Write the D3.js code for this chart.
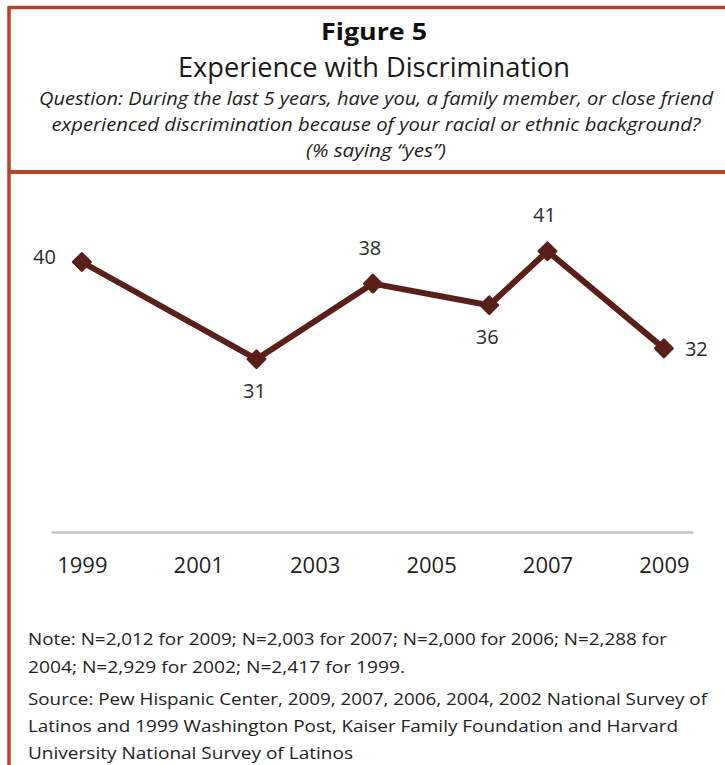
<!DOCTYPE html>
<html>
<head>
<meta charset="utf-8">
<script src="https://cdn.jsdelivr.net/npm/d3@7"></script>
<style>
  html, body { margin: 0; padding: 0; background: #fff; }
  svg { display: block; }
  text { font-family: "Open Sans", "Noto Sans", sans-serif; }
</style>
</head>
<body>
<script>
// ---- data ----
const years = [1999, 2002, 2004, 2006, 2007, 2009];
const values = [40, 31, 38, 36, 41, 32];
const tickYears = [1999, 2001, 2003, 2005, 2007, 2009];
const title = "Figure 5";
const subtitle = "Experience with Discrimination";
const questionLines = [
  "Question: During the last 5 years, have you, a family member, or close friend",
  "experienced discrimination because of your racial or ethnic background?",
  "(% saying \u201cyes\u201d)"
];
const noteLines = [
  "Note: N=2,012 for 2009; N=2,003 for 2007; N=2,000 for 2006; N=2,288 for",
  "2004; N=2,929 for 2002; N=2,417 for 1999."
];
const sourceLines = [
  "Source: Pew Hispanic Center, 2009, 2007, 2006, 2004, 2002 National Survey of",
  "Latinos and 1999 Washington Post, Kaiser Family Foundation and Harvard",
  "University National Survey of Latinos"
];

// ---- layout ----
const W = 725, H = 765;
const svg = d3.select("body").append("svg").attr("width", W).attr("height", H);
svg.append("rect").attr("width", W).attr("height", H).attr("fill", "#fff");

const borderColor = "#b3452a";
svg.append("line").attr("x1", 8.5).attr("x2", W).attr("y1", 7.5).attr("y2", 7.5)
  .attr("stroke", borderColor).attr("stroke-width", 3.5);
svg.append("line").attr("x1", 9).attr("x2", 9).attr("y1", 6).attr("y2", H)
  .attr("stroke", borderColor).attr("stroke-width", 3.5);
svg.append("line").attr("x1", 8).attr("x2", W).attr("y1", 172).attr("y2", 172)
  .attr("stroke", borderColor).attr("stroke-width", 4);

const cx = 374;
svg.append("text").attr("x", cx).attr("y", 40).attr("text-anchor", "middle")
  .attr("font-size", 24).attr("font-weight", 700).attr("fill", "#111")
  .attr("textLength", 106).attr("lengthAdjust", "spacingAndGlyphs").text(title);
svg.append("text").attr("x", cx).attr("y", 77).attr("text-anchor", "middle")
  .attr("font-size", 27).attr("fill", "#1a1a1a")
  .attr("textLength", 392).attr("lengthAdjust", "spacingAndGlyphs").text(subtitle);
const qWidths = [674, 649, 140];
svg.selectAll("text.q").data(questionLines).enter().append("text")
  .attr("class", "q")
  .attr("x", cx + 2).attr("y", (d, i) => 105 + i * 26)
  .attr("text-anchor", "middle").attr("font-size", 18.5).attr("font-style", "italic")
  .attr("fill", "#1e1e1e")
  .attr("textLength", (d, i) => qWidths[i]).attr("lengthAdjust", "spacingAndGlyphs")
  .text(d => d);

// ---- scales ----
const x = d3.scaleLinear().domain([1998.47, 2009.5]).range([51, 693]);
const y = d3.scaleLinear().domain([15, 45]).range([532, 208]);

const xAxis = d3.axisBottom(x).tickValues(tickYears).tickFormat(d3.format("d"))
  .tickSize(0).tickPadding(0);
const gx = svg.append("g").attr("transform", `translate(0,${y(15)})`).call(xAxis);
gx.select(".domain").attr("stroke", "#c4c4c4").attr("stroke-width", 2.5);
gx.selectAll(".tick text")
  .attr("font-family", "\"Open Sans\", sans-serif")
  .attr("font-size", 22).attr("fill", "#222")
  .attr("dy", 0).attr("y", 41);

// ---- line ----
const pts = years.map((yr, i) => ({ year: yr, value: values[i] }));
const lineColor = "#5b1f19";
svg.append("path").datum(pts)
  .attr("fill", "none").attr("stroke", lineColor).attr("stroke-width", 6)
  .attr("stroke-linejoin", "round")
  .attr("d", d3.line().x(d => x(d.year)).y(d => y(d.value)));

const sym = d3.symbol().type(d3.symbolSquare).size(150);
svg.selectAll("path.mk").data(pts).enter().append("path")
  .attr("class", "mk")
  .attr("d", sym)
  .attr("transform", d => `translate(${x(d.year)},${y(d.value)}) rotate(45)`)
  .attr("fill", lineColor).attr("stroke", lineColor).attr("stroke-width", 2.5)
  .attr("stroke-linejoin", "round");

// ---- value labels ----
function placement(i) {
  if (i === 0) return { dx: -26, dy: 2, anchor: "end" };
  if (i === pts.length - 1) return { dx: 21, dy: 8, anchor: "start" };
  const prev = pts[i - 1].value, next = pts[i + 1].value, v = pts[i].value;
  const above = v >= prev && v >= next ? true : (v <= prev && v <= next ? false : v > prev);
  return above ? { dx: -3, dy: -29, anchor: "middle" } : { dx: -2, dy: 39, anchor: "middle" };
}
svg.selectAll("text.val").data(pts).enter().append("text")
  .attr("class", "val")
  .each(function (d, i) {
    const p = placement(i);
    d3.select(this)
      .attr("x", x(d.year) + p.dx).attr("y", y(d.value) + p.dy)
      .attr("text-anchor", p.anchor);
  })
  .attr("font-size", 20).attr("fill", "#2a2a2a")
  .text(d => d.value);

// ---- footer ----
const noteWidths = [639, 377];
svg.selectAll("text.note").data(noteLines).enter().append("text")
  .attr("class", "note")
  .attr("x", 28).attr("y", (d, i) => 645 + i * 28)
  .attr("font-size", 16.5).attr("fill", "#222")
  .attr("textLength", (d, i) => noteWidths[i]).attr("lengthAdjust", "spacingAndGlyphs")
  .text(d => d);
const srcWidths = [679, 650, 325];
svg.selectAll("text.src").data(sourceLines).enter().append("text")
  .attr("class", "src")
  .attr("x", 28).attr("y", (d, i) => 705 + i * 27)
  .attr("font-size", 16.5).attr("fill", "#222")
  .attr("textLength", (d, i) => srcWidths[i]).attr("lengthAdjust", "spacingAndGlyphs")
  .text(d => d);
</script>
</body>
</html>
